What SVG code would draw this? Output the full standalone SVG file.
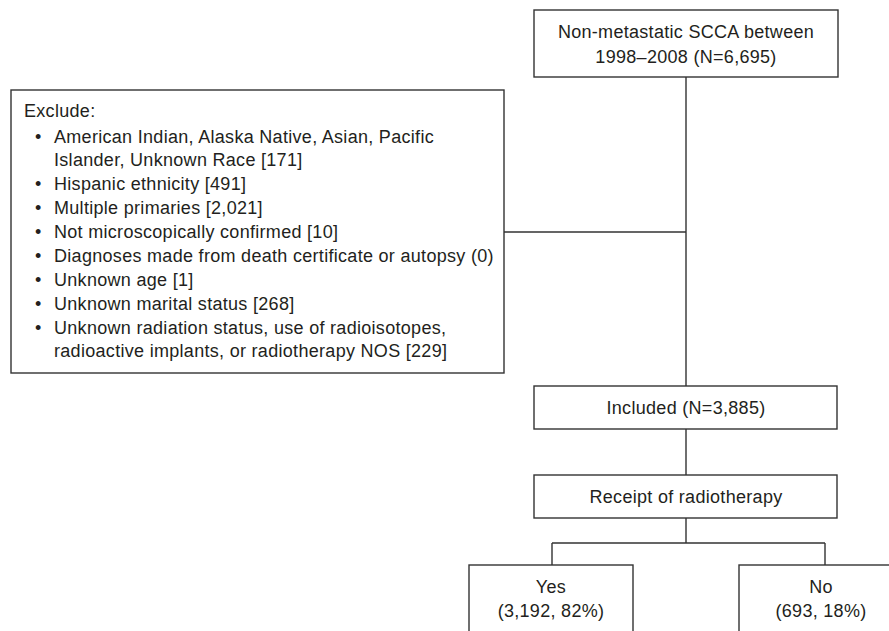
<svg xmlns="http://www.w3.org/2000/svg" width="889" height="631" viewBox="0 0 889 631">
<style>
.box{fill:#fff;stroke:#333;stroke-width:1.4}
.ln{fill:none;stroke:#333;stroke-width:1.4}
text{font-family:"Liberation Sans",Arial,sans-serif;font-size:18px;fill:#231f20;letter-spacing:0.3px}
.c{text-anchor:middle}
</style>
<rect width="889" height="631" fill="#fff"/>
<g id="connectors">
<path class="ln" d="M686,77V386M504,232H686M686,429V475M686,518V543M552,543H825M552,543V565M825,543V565"/>
</g>
<g id="n-source">
<rect class="box" x="534" y="10" width="304" height="67"/>
<text class="c" x="686" y="38">Non-metastatic SCCA between</text>
<text class="c" x="686" y="63">1998–2008 (N=6,695)</text>
</g>
<g id="n-exclude">
<rect class="box" x="11" y="90" width="493" height="283"/>
<text x="24" y="117">Exclude:</text>
<text x="35" y="143">•</text><text x="54" y="143">American Indian, Alaska Native, Asian, Pacific</text>
<text x="54" y="165.5">Islander, Unknown Race [171]</text>
<text x="35" y="190">•</text><text x="54" y="190">Hispanic ethnicity [491]</text>
<text x="35" y="214">•</text><text x="54" y="214">Multiple primaries [2,021]</text>
<text x="35" y="238">•</text><text x="54" y="238">Not microscopically confirmed [10]</text>
<text x="35" y="262">•</text><text x="54" y="262">Diagnoses made from death certificate or autopsy (0)</text>
<text x="35" y="286">•</text><text x="54" y="286">Unknown age [1]</text>
<text x="35" y="310">•</text><text x="54" y="310">Unknown marital status [268]</text>
<text x="35" y="334">•</text><text x="54" y="334">Unknown radiation status, use of radioisotopes,</text>
<text x="54" y="356.5">radioactive implants, or radiotherapy NOS [229]</text>
</g>
<g id="n-included">
<rect class="box" x="534" y="386" width="303" height="43"/>
<text class="c" x="686" y="414">Included (N=3,885)</text>
</g>
<g id="n-receipt">
<rect class="box" x="534" y="475" width="303" height="43"/>
<text class="c" x="686" y="503">Receipt of radiotherapy</text>
</g>
<g id="n-yes">
<rect class="box" x="469" y="565" width="164" height="80"/>
<text class="c" x="551" y="593">Yes</text>
<text class="c" x="551" y="617">(3,192, 82%)</text>
</g>
<g id="n-no">
<rect class="box" x="739" y="565" width="170" height="80"/>
<text class="c" x="821" y="593">No</text>
<text class="c" x="821" y="617">(693, 18%)</text>
</g>
</svg>
